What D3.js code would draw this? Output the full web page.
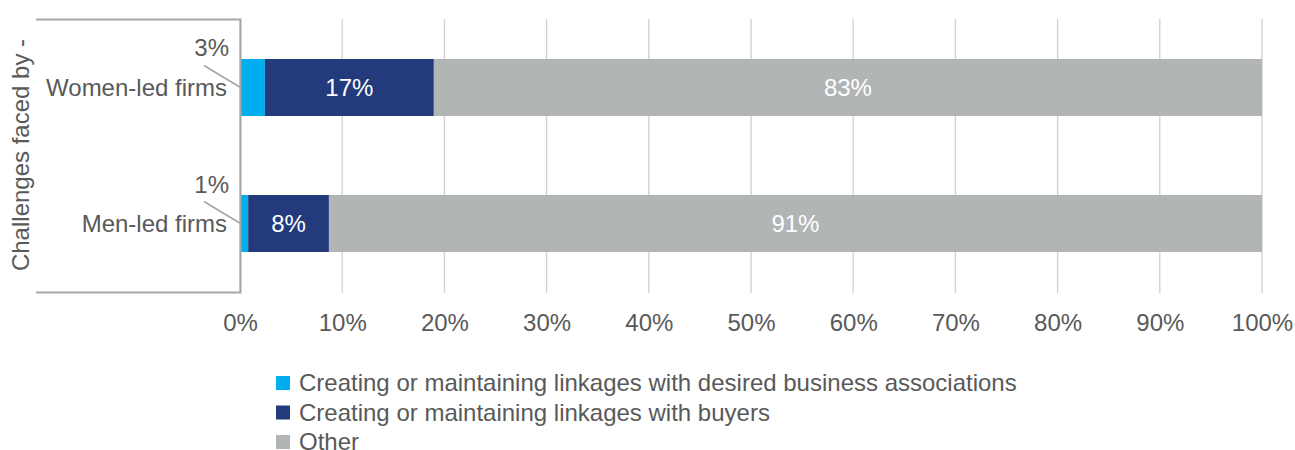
<!DOCTYPE html>
<html><head><meta charset="utf-8">
<script src="https://cdn.jsdelivr.net/npm/d3@7"></script>
<style>body{margin:0;background:#fff;} svg{display:block;font-family:"Liberation Sans",Arial,sans-serif;}</style>
</head><body>
<svg id="c" width="1295" height="450"></svg>
<script>
const categories = ["Women-led firms", "Men-led firms"];
const seriesNames = ["Creating or maintaining linkages with desired business associations", "Creating or maintaining linkages with buyers", "Other"];
const associations = [2.5, 0.8];
const buyers = [17.0, 7.9];
const other = [83.3, 91.3];
const xTicks = [0, 0.1, 0.2, 0.3, 0.4, 0.5, 0.6, 0.7, 0.8, 0.9, 1.0];
const colors = ["#00AEEF", "#233A7D", "#B2B5B6"];
const axisTitle = "Challenges faced by -";

const FS = 24;
const svg = d3.select("#c");
const x = d3.scaleLinear().domain([0, 1]).range([240, 1262]);
const y = d3.scaleBand().domain(categories).range([19, 292]).paddingInner(0.581).paddingOuter(0.294);
const textCol = "#595959";

// grid
svg.append("g").selectAll("line").data(xTicks).join("line")
  .attr("x1", d => x(d)).attr("x2", d => x(d)).attr("y1", 19).attr("y2", 293)
  .attr("stroke", "#D0D0D0").attr("stroke-width", 1.3);

// rows
const rows = categories.map((c, i) => {
  const vals = [associations[i], buyers[i], other[i]];
  const tot = d3.sum(vals);
  let acc = 0;
  return vals.map((v, k) => { const s = acc / tot; acc += v; return {cat: c, k, v, x0: s, x1: acc / tot}; });
});
const segs = rows.flat();
svg.append("g").selectAll("rect").data(segs).join("rect")
  .attr("x", d => x(d.x0)).attr("width", d => x(d.x1) - x(d.x0))
  .attr("y", d => y(d.cat)).attr("height", y.bandwidth())
  .attr("fill", d => colors[d.k]);

// inside labels
svg.append("g").selectAll("text").data(segs.filter(d => d.k > 0)).join("text")
  .attr("x", d => (x(d.x0) + x(d.x1)) / 2).attr("y", d => y(d.cat) + y.bandwidth() / 2)
  .attr("dy", "0.35em").attr("text-anchor", "middle").attr("fill", "#fff")
  .attr("font-size", FS).text(d => Math.round(d.v) + "%");

// outside labels with leader lines for first series
segs.filter(d => d.k === 0).forEach(d => {
  const cy = y(d.cat) + y.bandwidth() / 2;
  svg.append("line").attr("x1", 204).attr("y1", cy - 22).attr("x2", x(d.x0) + 0.5).attr("y2", cy)
    .attr("stroke", "#A6A6A6").attr("stroke-width", 1.5);
  svg.append("text").attr("x", 229).attr("y", cy - 31).attr("text-anchor", "end")
    .attr("fill", textCol).attr("font-size", FS).text(Math.round(d.v) + "%");
});

// bracket (axis box)
svg.append("path").attr("d", `M36,19.5H240.5V292.5H36`).attr("fill", "none")
  .attr("stroke", "#A6A6A6").attr("stroke-width", 2);

// category labels
svg.append("g").selectAll("text").data(categories).join("text")
  .attr("x", 227).attr("y", d => y(d) + y.bandwidth() / 2).attr("dy", "0.35em")
  .attr("text-anchor", "end").attr("fill", textCol).attr("font-size", FS).text(d => d);

// axis title
svg.append("text").attr("transform", "translate(29,155) rotate(-90)")
  .attr("text-anchor", "middle").attr("fill", textCol).attr("font-size", FS).text(axisTitle);

// x axis
const xAxis = d3.axisBottom(x).tickValues(xTicks).tickFormat(d3.format(".0%")).tickSize(0).tickPadding(0);
const gx = svg.append("g").attr("transform", "translate(0,331)").call(xAxis);
gx.select(".domain").remove();
gx.selectAll("text").attr("font-size", FS).attr("fill", textCol).attr("font-family", "Liberation Sans, Arial, sans-serif").attr("y", 0).attr("dy", 0);

// legend
const lg = svg.append("g").selectAll("g").data(seriesNames).join("g")
  .attr("transform", (d, i) => `translate(276,${383 + i * 29.5})`);
lg.append("rect").attr("x", 0).attr("y", -7).attr("width", 14).attr("height", 14).attr("fill", (d, i) => colors[i]);
lg.append("text").attr("x", 23).attr("y", 0).attr("dy", "0.35em").attr("fill", textCol).attr("font-size", FS).text(d => d);
</script>
</body></html>
